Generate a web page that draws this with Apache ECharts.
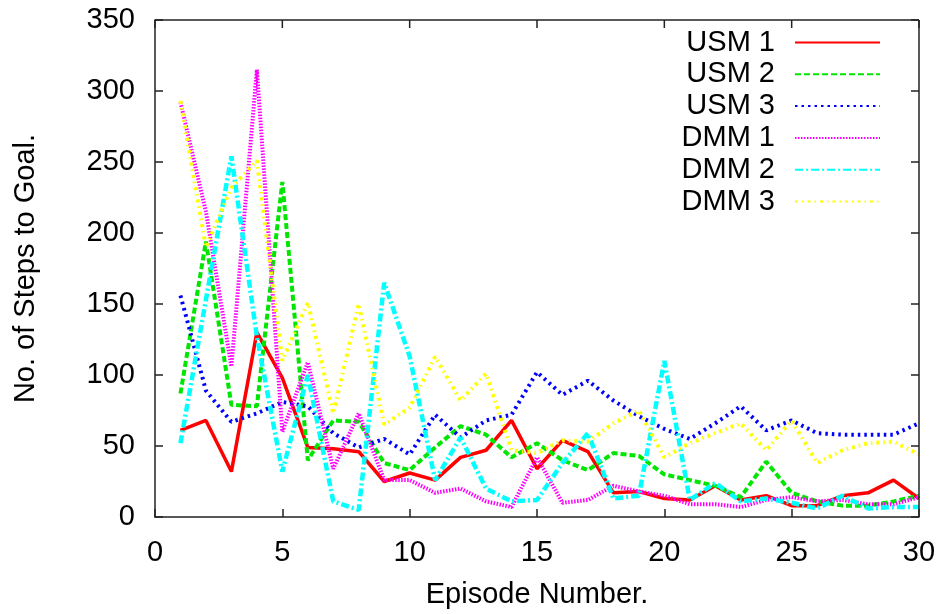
<!DOCTYPE html>
<html>
<head>
<meta charset="utf-8">
<script src="https://cdn.jsdelivr.net/npm/echarts@6/dist/echarts.min.js"></script>
<style>
  html, body { margin: 0; padding: 0; background: #fff; }
  #chart { width: 943px; height: 614px; }
</style>
</head>
<body>
<div id="chart"></div>
<script>
var episodes = [1, 2, 3, 4, 5, 6, 7, 8, 9, 10, 11, 12, 13, 14, 15, 16, 17, 18, 19, 20, 21, 22, 23, 24, 25, 26, 27, 28, 29, 30];
var usm1 = [61, 68, 32, 130, 98, 49, 48, 46, 25, 31, 26, 42, 47, 68, 34, 54, 46, 17, 18, 13, 12, 22, 12, 15, 8, 8, 15, 17, 26, 13];
var usm2 = [87, 194, 79, 78, 236, 40, 68, 67, 38, 33, 49, 64, 58, 42, 52, 40, 33, 45, 43, 30, 26, 22, 14, 39, 17, 11, 8, 8, 11, 15];
var usm3 = [156, 89, 67, 73, 81, 78, 59, 49, 55, 44, 72, 56, 68, 72, 102, 86, 96, 82, 71, 62, 55, 66, 78, 61, 68, 59, 58, 58, 58, 66];
var dmm1 = [292, 215, 106, 315, 60, 109, 34, 73, 26, 26, 17, 20, 11, 7, 42, 10, 12, 22, 18, 15, 9, 9, 7, 12, 14, 11, 12, 9, 9, 14];
var dmm2 = [52, 153, 254, 127, 32, 100, 11, 5, 165, 113, 26, 56, 20, 11, 12, 38, 59, 13, 15, 110, 12, 24, 11, 13, 10, 6, 15, 6, 7, 7];
var dmm3 = [293, 190, 232, 251, 110, 151, 73, 150, 65, 77, 113, 82, 101, 47, 45, 54, 53, 66, 75, 42, 52, 59, 66, 47, 68, 38, 47, 52, 53, 44];
var seriesNames = ['USM 1', 'USM 2', 'USM 3', 'DMM 1', 'DMM 2', 'DMM 3'];
var xTicks = [0, 5, 10, 15, 20, 25, 30];
var yTicks = [0, 50, 100, 150, 200, 250, 300, 350];

var FONT = '"Liberation Sans", Arial, sans-serif';

function pairs(values) {
  return episodes.map(function (ep, i) { return [ep, values[i]]; });
}

function makeLine(name, values, color, dash, width) {
  return {
    name: name,
    type: 'line',
    symbol: 'none',
    silent: true,
    clip: false,
    animation: false,
    lineStyle: { color: color, width: width, type: dash, cap: 'butt' },
    itemStyle: { color: color },
    data: pairs(values)
  };
}

function axisBase(extra) {
  var base = {
    axisLine: { show: true, onZero: false, lineStyle: { color: '#222', width: 1.5 } },
    axisTick: { show: true, inside: true, length: 8, lineStyle: { color: '#222', width: 1.5 } },
    splitLine: { show: false },
    axisLabel: { show: false }
  };
  for (var k in extra) base[k] = extra[k];
  return base;
}

var chart = echarts.init(document.getElementById('chart'));

// one legend per entry so the sample lines stay right-aligned like gnuplot's key
var legends = seriesNames.map(function (n, i) {
  return {
    data: [n],
    orient: 'vertical',
    align: 'right',
    right: 62,
    top: 28 + i * 31.8,
    padding: 0,
    itemWidth: 85,
    itemHeight: 14,
    selectedMode: false,
    itemStyle: { opacity: 0 },
    textStyle: { fontFamily: FONT, fontSize: 29, color: '#000', padding: [0, 15, 0, 0] }
  };
});

var option = {
  backgroundColor: '#fff',
  animation: false,
  grid: { left: 155, right: 24, top: 20, bottom: 97, containLabel: false, outerBoundsMode: 'none' },
  legend: legends,
  xAxis: [
    axisBase({
      type: 'value', min: 0, max: 30, interval: 5, position: 'bottom',
      name: 'Episode Number.', nameLocation: 'middle', nameGap: 63,
      nameTextStyle: { fontFamily: FONT, fontSize: 29, color: '#000' },
      axisLabel: { show: true, fontFamily: FONT, fontSize: 29, color: '#000', margin: 21 }
    })
  ],
  yAxis: [
    axisBase({
      type: 'value', min: 0, max: 350, interval: 50, position: 'left',
      name: 'No. of Steps to Goal.', nameLocation: 'middle', nameGap: 115,
      nameTextStyle: { fontFamily: FONT, fontSize: 29, color: '#000' },
      axisLabel: { show: true, fontFamily: FONT, fontSize: 29, color: '#000', margin: 20 }
    })
  ],
  series: [
    makeLine('USM 1', usm1, '#ff0000', 'solid', 3.5),
    makeLine('USM 2', usm2, '#00e600', [6, 3], 4),
    makeLine('USM 3', usm3, '#0000ff', [2.5, 4], 4),
    makeLine('DMM 1', dmm1, '#ff00ff', [1.5, 1.5], 4),
    makeLine('DMM 2', dmm2, '#00ffff', [8, 3, 2, 3], 4.5),
    makeLine('DMM 3', dmm3, '#ffff00', [3, 4, 1.5, 4], 4)
  ]
};

chart.setOption(option);

// gnuplot-style border: top/right edges and mirrored ticks, placed through the axes' own scales
var finder = { xAxisIndex: 0, yAxisIndex: 0 };
var lo = chart.convertToPixel(finder, [0, 0]);
var hi = chart.convertToPixel(finder, [30, 350]);
var strokeStyle = { stroke: '#222', lineWidth: 1.5 };
var frame = [
  { type: 'line', z: 100, silent: true, shape: { x1: lo[0], y1: hi[1], x2: hi[0], y2: hi[1] }, style: strokeStyle },
  { type: 'line', z: 100, silent: true, shape: { x1: hi[0], y1: hi[1], x2: hi[0], y2: lo[1] }, style: strokeStyle }
];
xTicks.forEach(function (t) {
  var p = chart.convertToPixel(finder, [t, 350]);
  frame.push({ type: 'line', z: 100, silent: true, shape: { x1: p[0], y1: p[1], x2: p[0], y2: p[1] + 8 }, style: strokeStyle });
});
yTicks.forEach(function (t) {
  var p = chart.convertToPixel(finder, [30, t]);
  frame.push({ type: 'line', z: 100, silent: true, shape: { x1: p[0], y1: p[1], x2: p[0] - 8, y2: p[1] }, style: strokeStyle });
});
chart.setOption({ graphic: frame });
</script>
</body>
</html>
